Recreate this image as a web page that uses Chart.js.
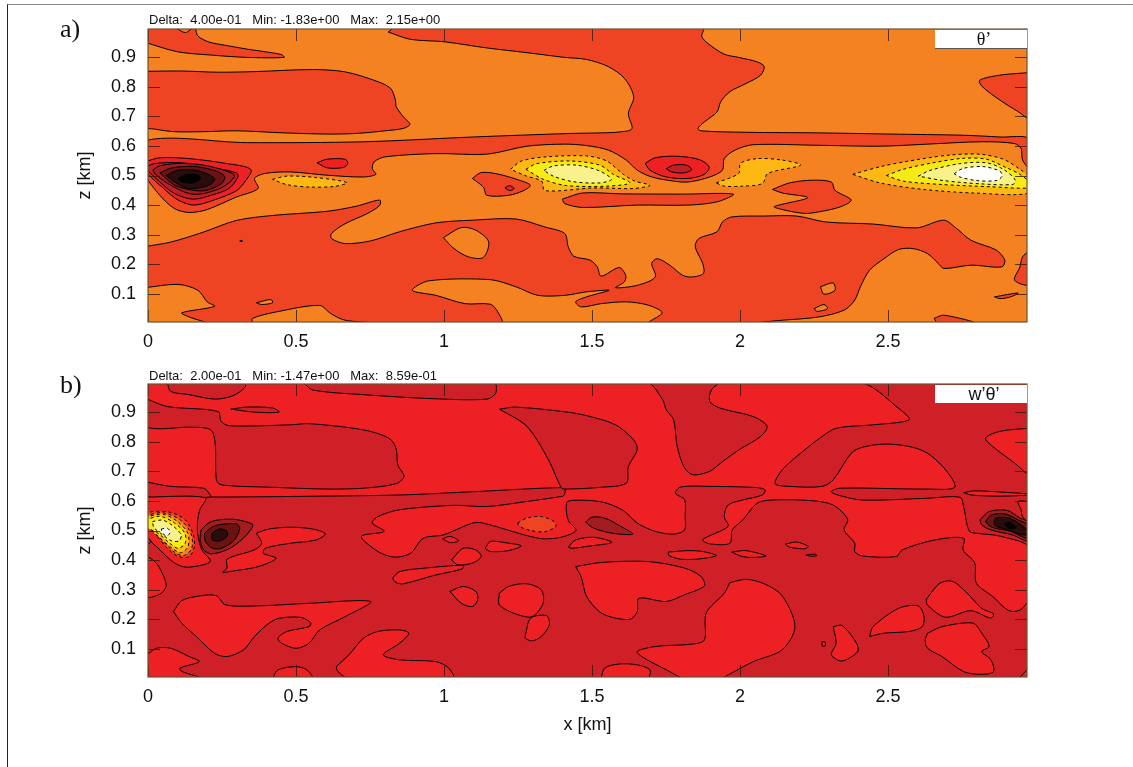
<!DOCTYPE html>
<html>
<head>
<meta charset="utf-8">
<title>Contours</title>
<script src="https://cdn.jsdelivr.net/npm/chart.js@4/dist/chart.umd.min.js"></script>
<style>
  html, body { margin: 0; padding: 0; background: #fff; overflow: hidden; }
  canvas { position: absolute; left: 0; }
  .page { position: absolute; left: 7px; top: 4px; width: 1126px; height: 763px; border-top: 1px solid #888; border-left: 1px solid #222; }
  .tag { position: absolute; left: 60px; font: 26px "Liberation Serif", serif; color: #111; }
  .stats { position: absolute; left: 149px; font: 13px "Liberation Sans", sans-serif; color: #111; white-space: pre; }
  .key { position: absolute; left: 935px; width: 86px; height: 18px; padding-left: 6px; background: #fff; border-bottom: 1px solid #555; text-align: center; color: #111; line-height: 18px; font-size: 18px; }
</style>
</head>
<body>
<div class="page"></div>
<canvas id="chartA" width="1133" height="360" style="top:0"></canvas>
<canvas id="chartB" width="1133" height="407" style="top:360px"></canvas>
<div class="tag" style="top:14px">a)</div>
<div class="tag" style="top:370px">b)</div>
<div class="stats" style="top:12px">Delta:  4.00e-01   Min: -1.83e+00   Max:  2.15e+00</div>
<div class="stats" style="top:368px">Delta:  2.00e-01   Min: -1.47e+00   Max:  8.59e-01</div>
<div class="key" style="top:30px;font-family:'Liberation Serif',serif">θ’</div>
<div class="key" style="top:385px;font-family:'Liberation Sans',sans-serif">w’θ’</div>
<script>
const xTicks = [0, 0.5, 1, 1.5, 2, 2.5];
const zTicks = [0.1, 0.2, 0.3, 0.4, 0.5, 0.6, 0.7, 0.8, 0.9];

// panel a, contours of theta' as [x km, z km]
const thetaBand = [[.811,.985],[.838,1],[1.876,1],[1.871,.97],[1.892,.946],[1.947,.91],[1.996,.899],[2.058,.884],[2.082,.868],[2.07,.839],[2.021,.811],[1.966,.783],[1.935,.749],[1.923,.715],[1.88,.681],[1.858,.659],[1.868,.651],[2.021,.646],[2.266,.644],[2.511,.64],[2.756,.636],[2.879,.63],[2.98,.623],[2.98,.524],[2.955,.552],[2.95,.591],[2.928,.608],[2.817,.614],[2.634,.606],[2.474,.599],[2.266,.602],[2.045,.604],[1.984,.586],[1.947,.557],[1.941,.518],[1.898,.495],[1.825,.478],[1.776,.481],[1.702,.495],[1.653,.518],[1.616,.552],[1.555,.586],[1.482,.601],[1.408,.606],[1.28,.599],[1.145,.572],[.973,.574],[.801,.563],[.764,.546],[.758,.523],[.77,.504],[.728,.495],[.605,.501],[.482,.512],[.396,.507],[.36,.49],[.372,.456],[.298,.427],[.2,.385],[.139,.375],[.09,.388],[.04,.433],[-.01,.507],[-.01,.617],[.335,.611],[.728,.614],[1.096,.63],[1.425,.642],[1.531,.644],[1.592,.647],[1.635,.658],[1.623,.709],[1.641,.766],[1.61,.828],[1.555,.868],[1.482,.892],[1.408,.899],[1.28,.915],[1.145,.931],[1,.952],[.887,.96]];
const thetaTopLeft = [[-.01,.95],[.1,.918],[.212,.907],[.335,.899],[.46,.899],[.452,.908],[.41,.916],[.335,.927],[.261,.94],[.206,.951],[.169,.971],[.157,1],[.126,.983],[.087,1],[-.01,1]];
const thetaUpperBlob = [[-.01,.852],[.114,.853],[.237,.849],[.359,.851],[.556,.858],[.667,.85],[.777,.817],[.82,.794],[.836,.755],[.839,.732],[.863,.698],[.885,.673],[.862,.659],[.801,.651],[.703,.642],[.605,.64],[.458,.644],[.298,.651],[.188,.648],[.09,.648],[.028,.656],[-.01,.667]];
const thetaUpperRight = [[2.98,.848],[2.878,.839],[2.81,.822],[2.817,.802],[2.878,.755],[2.94,.716],[2.98,.693]];
const thetaLower = [[-.01,.26],[.077,.275],[.188,.309],[.298,.348],[.421,.365],[.605,.379],[.703,.396],[.783,.417],[.783,.399],[.74,.371],[.666,.337],[.62,.304],[.62,.287],[.666,.27],[.752,.279],[.85,.31],[.973,.34],[1.096,.349],[1.243,.353],[1.341,.326],[1.408,.304],[1.42,.259],[1.439,.227],[1.494,.214],[1.518,.191],[1.531,.16],[1.592,.189],[1.614,.163],[1.61,.141],[1.58,.121],[1.653,.129],[1.714,.157],[1.702,.203],[1.721,.219],[1.763,.197],[1.806,.163],[1.837,.157],[1.877,.169],[1.874,.203],[1.849,.259],[1.861,.287],[1.923,.31],[1.941,.343],[1.972,.36],[2.082,.363],[2.192,.363],[2.29,.343],[2.45,.336],[2.597,.323],[2.689,.349],[2.732,.321],[2.781,.281],[2.866,.248],[2.895,.214],[2.885,.191],[2.781,.197],[2.689,.186],[2.67,.203],[2.634,.236],[2.585,.253],[2.536,.25],[2.487,.219],[2.438,.18],[2.407,.124],[2.388,.079],[2.352,.045],[2.266,.022],[2.143,.011],[2.009,0],[1.69,0],[1.737,.036],[1.69,.062],[1.616,.073],[1.531,.067],[1.464,.056],[1.445,.073],[1.482,.09],[1.558,.112],[1.482,.107],[1.408,.095],[1.317,.095],[1.243,.124],[1.157,.148],[.948,.144],[.893,.112],[.973,.095],[1.071,.067],[1.157,.065],[1.182,.039],[1.194,0],[-.01,0]];
const thetaLowLeft = [[-.01,.121],[.102,.132],[.169,.112],[.2,.073],[.225,.058],[.114,.036],[.139,.022],[.2,0],[-.01,0]];
const thetaLowBump = [[.353,0],[.353,.017],[.433,.039],[.58,.061],[.617,.034],[.666,.011],[.795,0]];
const thetaIsleA = [[.998,.29],[1.059,.324],[1.108,.315],[1.151,.276],[1.133,.223],[1.083,.225],[1.034,.253]];
const thetaIsleB = [[.366,.07],[.415,.081],[.421,.07],[.384,.064]];
const thetaIsleC = [[2.272,.124],[2.315,.137],[2.321,.112],[2.284,.099]];
const thetaIsleD = [[2.251,.05],[2.284,.064],[2.296,.05],[2.259,.041]];
const thetaEdgeA = [[2.98,.248],[2.955,.225],[2.946,.191],[2.928,.146],[2.98,.132]];
const thetaEdgeB = [[2.86,.09],[2.94,.103],[2.915,.09],[2.879,.084]];
const thetaEdgeC = [[2.656,.017],[2.689,.028],[2.8,0],[2.67,0]];
const thetaLens = [[1.4,.42],[1.469,.441],[1.6,.438],[1.8,.437],[1.978,.437],[1.923,.411],[1.825,.4],[1.653,.4],[1.469,.392],[1.408,.405]];
const thetaPatchA = [[1.096,.49],[1.126,.51],[1.182,.505],[1.255,.484],[1.292,.467],[1.267,.448],[1.218,.433],[1.145,.433],[1.133,.461]];
const thetaPatchB = [[2.11,.453],[2.168,.475],[2.241,.484],[2.309,.478],[2.321,.45],[2.376,.417],[2.339,.394],[2.266,.377],[2.217,.372],[2.143,.385],[2.116,.395],[2.229,.425],[2.143,.441]];
const thetaSpot = [[1.206,.458],[1.222,.466],[1.237,.456],[1.222,.449]];
const thetaSmallRed = [[.571,.543],[.605,.555],[.666,.555],[.675,.541],[.66,.527],[.605,.526]];
const thetaDot = [[.31,.279],[.318,.281],[.318,.277]];
const thetaCoolA = [[0-.01,.546],[.04,.56],[.139,.557],[.262,.541],[.348,.52],[.323,.473],[.298,.448],[.237,.422],[.157,.4],[.102,.417],[.053,.456],[-.01,.517]];
const thetaCoolB = [[-.01,.525],[.02,.54],[.114,.543],[.237,.523],[.298,.509],[.304,.495],[.273,.456],[.212,.433],[.151,.42],[.09,.439],[.04,.478]];
const thetaCoolC = [[.016,.518],[.04,.533],[.114,.541],[.2,.533],[.286,.507],[.292,.495],[.255,.462],[.188,.439],[.139,.439],[.077,.467],[.028,.501]];
const thetaCoolD = [[.04,.509],[.077,.525],[.151,.531],[.225,.517],[.259,.497],[.249,.473],[.2,.45],[.151,.45],[.09,.467]];
const thetaCoolE = [[.061,.501],[.102,.518],[.169,.516],[.225,.49],[.206,.467],[.139,.456],[.09,.478]];
const thetaCoolF = [[.102,.49],[.133,.504],[.169,.501],[.178,.49],[.151,.475],[.114,.478]];
const thetaMidRed = [[1.68,.541],[1.714,.56],[1.788,.565],[1.862,.554],[1.896,.529],[1.88,.504],[1.825,.49],[1.751,.495],[1.696,.518]];
const thetaMidDark = [[1.751,.523],[1.776,.535],[1.819,.535],[1.837,.52],[1.812,.509],[1.77,.512]];
const thetaWarmLeft = [[.421,.487],[.47,.498],[.568,.493],[.672,.476],[.63,.463],[.544,.461],[.47,.469]];
const thetaWarmMidA = [[1.225,.521],[1.262,.549],[1.347,.563],[1.482,.566],[1.55,.549],[1.606,.504],[1.645,.481],[1.696,.467],[1.64,.456],[1.505,.458],[1.341,.449],[1.33,.481],[1.279,.498]];
const thetaWarmMidB = [[1.277,.521],[1.313,.54],[1.426,.549],[1.527,.535],[1.572,.504],[1.628,.475],[1.55,.464],[1.414,.466],[1.336,.487]];
const thetaWarmMidC = [[1.338,.517],[1.369,.532],[1.448,.535],[1.527,.515],[1.566,.487],[1.527,.475],[1.437,.479],[1.369,.498]];
const thetaWarmNext = [[1.92,.475],[1.996,.507],[2.002,.541],[2.058,.557],[2.143,.552],[2.205,.535],[2.094,.507],[2.076,.473],[2.009,.464],[1.947,.464]];
const thetaWarmRightA = [[2.381,.504],[2.484,.532],[2.608,.555],[2.709,.569],[2.811,.572],[2.89,.555],[2.946,.521],[2.98,.492],[2.98,.441],[2.789,.441],[2.62,.453],[2.473,.475]];
const thetaWarmRightB = [[2.495,.5],[2.552,.521],[2.653,.543],[2.754,.558],[2.833,.555],[2.901,.526],[2.946,.504],[2.98,.475],[2.98,.458],[2.845,.462],[2.676,.47],[2.552,.481]];
const thetaWarmRightC = [[2.603,.498],[2.642,.517],[2.743,.54],[2.833,.543],[2.89,.521],[2.929,.487],[2.923,.47],[2.811,.472],[2.687,.483]];
const thetaWarmRightD = [[2.724,.506],[2.754,.524],[2.822,.53],[2.878,.515],[2.886,.498],[2.866,.483],[2.799,.483],[2.743,.495]];

// panel b, contours of w'theta' as [x km, z km]
const fluxMain = [[-.01,1],[-.01,.615],[.212,.613],[.482,.615],[.85,.62],[1.096,.631],[1.396,.645],[1.409,.638],[1.405,.618],[1.384,.613],[1.28,.598],[1.145,.581],[1.034,.585],[.85,.57],[.777,.547],[.758,.525],[.798,.497],[.721,.48],[.777,.429],[.832,.41],[.887,.423],[.93,.474],[.998,.485],[1.096,.525],[1.133,.525],[1.317,.474],[1.39,.476],[1.446,.5],[1.42,.534],[1.414,.593],[1.437,.602],[1.531,.597],[1.604,.569],[1.653,.525],[1.714,.497],[1.776,.488],[1.813,.502],[1.815,.547],[1.813,.604],[1.782,.626],[1.8,.647],[1.898,.649],[2.058,.645],[2.085,.637],[2.076,.62],[2.009,.603],[1.96,.586],[1.947,.547],[1.96,.514],[1.874,.469],[1.898,.455],[1.966,.457],[1.974,.502],[2.009,.535],[2.058,.592],[2.107,.603],[2.241,.601],[2.315,.586],[2.364,.538],[2.352,.502],[2.388,.457],[2.388,.429],[2.413,.414],[2.529,.412],[2.547,.434],[2.658,.468],[2.756,.474],[2.754,.434],[2.793,.391],[2.799,.322],[2.854,.277],[2.909,.229],[2.946,.231],[2.97,.256],[2.98,.27],[2.98,.44],[2.879,.481],[2.805,.49],[2.775,.498],[2.756,.579],[2.744,.612],[2.634,.609],[2.413,.603],[2.327,.621],[2.309,.632],[2.339,.643],[2.634,.64],[2.726,.646],[2.695,.705],[2.634,.761],[2.572,.784],[2.487,.792],[2.413,.781],[2.376,.761],[2.315,.671],[2.278,.649],[2.168,.649],[2.119,.658],[2.143,.705],[2.205,.761],[2.278,.818],[2.327,.846],[2.45,.857],[2.572,.874],[2.542,.908],[2.407,1],[1.941,1],[1.904,.975],[1.898,.936],[1.935,.913],[2.045,.885],[2.092,.852],[2.07,.818],[1.996,.772],[1.935,.728],[1.898,.7],[1.843,.688],[1.813,.711],[1.788,.784],[1.776,.874],[1.751,.908],[1.739,.942],[1.684,1]];
const fluxTopA = [[.065,1],[.077,.97],[.139,.959],[.225,.944],[.286,.955],[.329,.985],[.323,1]];
const fluxTopB = [[.525,1],[.556,.975],[.728,.959],[.973,.945],[1.145,.944],[1.175,.964],[1.169,1]];
const fluxSliverTop = [[.28,.91],[.335,.917],[.421,.914],[.443,.9],[.36,.9]];
const fluxUpperLeft = [[-.01,.947],[.065,.919],[.237,.902],[.247,.869],[.274,.854],[.482,.857],[.544,.861],[.728,.84],[.814,.812],[.838,.778],[.844,.722],[.865,.683],[.838,.658],[.728,.643],[.605,.64],[.421,.646],[.249,.654],[.231,.671],[.227,.795],[.212,.84],[.151,.849],[-.01,.852]];
const fluxUpperMid = [[1.188,.91],[1.243,.917],[1.425,.899],[1.494,.885],[1.58,.857],[1.641,.806],[1.653,.773],[1.623,.716],[1.616,.66],[1.531,.646],[1.408,.64],[1.396,.645],[1.353,.739],[1.28,.852]];
const fluxWedge = [[-.01,.665],[.077,.649],[.188,.643],[.206,.626],[.212,.613],[-.01,.615]];
const fluxAroundWarm = [[-.01,.613],[.194,.611],[.175,.57],[.167,.525],[.169,.48],[.182,.435],[.21,.395],[.133,.376],[.09,.39],[.04,.435],[-.01,.491]];
const fluxLeftNick = [[-.01,.485],[.01,.463],[-.01,.452]];
const fluxLeftEdge = [[-.01,.418],[.028,.39],[.053,.345],[.061,.311],[.04,.285],[-.01,.277]];
const fluxWarmA = [[-.01,.553],[.016,.564],[.077,.561],[.126,.536],[.151,.491],[.157,.446],[.139,.412],[.102,.412],[.065,.44],[.028,.485],[-.01,.525]];
const fluxWarmB = [[-.01,.55],[.05,.56],[.11,.535],[.145,.49],[.148,.44],[.12,.415],[.085,.43],[.045,.47],[-.01,.523]];
const fluxWarmC = [[-.01,.545],[.05,.555],[.1,.53],[.135,.49],[.135,.445],[.11,.425],[.075,.445],[.035,.48],[-.01,.52]];
const fluxWarmD = [[-.01,.535],[.04,.548],[.09,.525],[.125,.49],[.125,.455],[.1,.44],[.07,.46],[.035,.49],[-.01,.515]];
const fluxWarmE = [[.015,.53],[.05,.535],[.085,.515],[.112,.485],[.105,.465],[.08,.465],[.05,.485],[.02,.51]];
const fluxWarmF = [[.045,.505],[.065,.508],[.075,.495],[.065,.482],[.05,.49]];
const fluxCoolA = [[.179,.502],[.213,.53],[.286,.538],[.353,.521],[.347,.502],[.31,.463],[.267,.435],[.213,.421],[.188,.435],[.176,.468]];
const fluxCoolB = [[.191,.491],[.225,.516],[.298,.523],[.31,.508],[.292,.468],[.249,.44],[.218,.44],[.194,.463]];
const fluxCoolC = [[.216,.491],[.243,.506],[.267,.497],[.267,.48],[.243,.465],[.218,.468]];
const fluxBlobA = [[.366,.491],[.409,.505],[.482,.511],[.556,.505],[.599,.489],[.568,.468],[.482,.457],[.396,.44],[.39,.423],[.433,.406],[.372,.378],[.274,.361],[.252,.359],[.267,.373],[.267,.403],[.36,.435],[.384,.457]];
const fluxBlobB = [[.086,.226],[.114,.263],[.175,.279],[.231,.28],[.261,.249],[.36,.245],[.544,.254],[.752,.26],[.666,.209],[.58,.164],[.544,.119],[.5,.102],[.452,.119],[.439,.136],[.47,.159],[.544,.175],[.55,.187],[.519,.206],[.445,.204],[.409,.187],[.36,.142],[.323,.097],[.267,.074],[.225,.085],[.163,.142],[.114,.187]];
const fluxBlobC = [[-.01,.074],[.028,.102],[.077,.102],[.139,.074],[.173,.057],[.108,.035],[.114,.024],[.182,0],[-.01,0]];
const fluxBlobD = [[.421,0],[.439,.029],[.5,.04],[.537,.029],[.555,0]];
const fluxBlobE = [[.636,.04],[.679,.08],[.728,.136],[.777,.159],[.85,.164],[.881,.153],[.85,.119],[.795,.08],[.85,.063],[.973,.057],[1.016,.035],[1.031,0],[.679,0],[.642,.023]];
const fluxSpotA = [[.995,.472],[1.022,.48],[1.049,.465],[1.022,.459]];
const fluxSpotB = [[1.139,.44],[1.157,.463],[1.206,.459],[1.261,.448],[1.218,.432],[1.157,.429]];
const fluxSpotC = [[1.42,.444],[1.445,.468],[1.506,.477],[1.567,.46],[1.482,.446],[1.432,.44]];
const fluxSpotD = [[1.026,.401],[1.065,.44],[1.108,.434],[1.126,.412],[1.096,.39],[1.047,.384]];
const fluxSpotE = [[.826,.339],[.85,.361],[.936,.373],[1.065,.382],[1.061,.37],[.973,.35],[.863,.32],[.838,.324]];
const fluxSpotF = [[1.02,.294],[1.065,.311],[1.108,.294],[1.114,.266],[1.096,.243],[1.059,.254]];
const fluxSpotG = [[1.187,.288],[1.218,.311],[1.28,.32],[1.329,.299],[1.335,.254],[1.298,.209],[1.243,.218],[1.187,.249]];
const fluxSpotH = [[1.275,.147],[1.293,.204],[1.347,.212],[1.356,.181],[1.329,.142],[1.298,.127],[1.275,.136]];
const fluxLargeA = [[1.445,.378],[1.531,.392],[1.69,.395],[1.813,.373],[1.868,.345],[1.88,.313],[1.813,.283],[1.751,.26],[1.659,.271],[1.653,.226],[1.629,.2],[1.567,.207],[1.525,.226],[1.482,.277],[1.463,.345]];
const fluxLargeB = [[1.966,.324],[2.021,.335],[2.082,.32],[2.143,.279],[2.186,.175],[2.143,.097],[2.045,.057],[1.96,.012],[1.935,0],[1.813,0],[1.763,.023],[1.653,.088],[1.714,.108],[1.837,.116],[1.88,.13],[1.886,.221],[1.947,.288]];
const fluxBottomMid = [[1.531,0],[1.543,.035],[1.592,.049],[1.653,.046],[1.696,.029],[1.687,0]];
const fluxThinA = [[1.757,.427],[1.824,.432],[1.874,.429],[1.92,.415],[1.862,.404],[1.801,.403],[1.761,.415]];
const fluxThinB = [[1.972,.427],[2.021,.432],[2.088,.414],[2.045,.409],[2.008,.412]];
const fluxThinC = [[2.153,.454],[2.192,.461],[2.231,.446],[2.217,.438],[2.168,.444]];
const fluxThinD = [[2.223,.417],[2.254,.42],[2.26,.415],[2.241,.413]];
const fluxDarkOval = [[1.479,.528],[1.5,.545],[1.543,.542],[1.592,.517],[1.638,.488],[1.567,.491],[1.506,.508]];
const fluxOrangeOval = [[1.249,.525],[1.28,.542],[1.329,.547],[1.372,.53],[1.378,.514],[1.341,.496],[1.292,.5],[1.255,.514]];
const fluxRing = [[2.278,.125],[2.288,.122],[2.288,.11],[2.278,.11]];
const fluxRightA = [[2.315,.175],[2.345,.179],[2.394,.119],[2.398,.091],[2.345,.059],[2.309,.08],[2.325,.119]];
const fluxRightB = [[2.438,.142],[2.45,.175],[2.536,.237],[2.603,.245],[2.622,.209],[2.616,.175],[2.572,.159],[2.487,.153]];
const fluxRightC = [[2.63,.268],[2.676,.322],[2.719,.328],[2.768,.288],[2.817,.237],[2.857,.218],[2.847,.204],[2.78,.229],[2.694,.207],[2.633,.249]];
const fluxRightD = [[2.634,.153],[2.683,.175],[2.787,.187],[2.817,.153],[2.842,.108],[2.817,.091],[2.848,.063],[2.857,.023],[2.817,.014],[2.756,.023],[2.683,.074],[2.634,.102],[2.626,.13]];
const fluxCorner = [[2.943,0],[2.97,.029],[2.98,.04],[2.98,0]];
const fluxTopRight = [[2.98,.846],[2.878,.835],[2.83,.812],[2.854,.784],[2.928,.728],[2.98,.691]];
const fluxSliverRight = [[2.756,.628],[2.793,.634],[2.879,.63],[2.98,.623],[2.98,.62],[2.879,.616],[2.781,.62]];
const fluxEdgeRight = [[2.98,.598],[2.94,.598],[2.95,.57],[2.955,.547],[2.98,.525]];
const fluxCoolRightA = [[2.811,.536],[2.842,.564],[2.903,.568],[2.946,.542],[2.98,.525],[2.98,.463],[2.921,.485],[2.848,.502],[2.817,.519]];
const fluxCoolRightB = [[2.83,.53],[2.848,.552],[2.897,.556],[2.94,.536],[2.98,.514],[2.98,.471],[2.915,.497],[2.86,.508],[2.842,.517]];
const fluxCoolRightC = [[2.858,.525],[2.866,.542],[2.909,.542],[2.952,.517],[2.98,.491],[2.958,.485],[2.909,.502],[2.866,.514]];
const fluxCoolRightD = [[2.893,.523],[2.909,.527],[2.934,.51],[2.909,.508]];

const colors = { black: '#000', ink: '#2b0c0c', maroon: '#6b1213', brick: '#a31c20', crimson: '#be2026', dark: '#cf2027', red: '#ed2024', tomato: '#ef4423', orange: '#f58220', amber: '#fdb813', yellow: '#f6eb14', pale: '#f9f28a', white: '#fff' };
const dash = [3, 3];

function shape(points, color, borderDash) {
  const closed = points.concat([points[0]]);
  return {
    data: closed.map(p => ({x: p[0], y: p[1]})),
    showLine: true,
    fill: 'shape',
    backgroundColor: color,
    borderColor: '#000',
    borderWidth: 1,
    borderDash: borderDash || [],
    pointRadius: 0,
    tension: 0.3
  };
}

const thetaLayers = [
  shape(thetaBand, colors.tomato), shape(thetaTopLeft, colors.tomato), shape(thetaUpperBlob, colors.tomato),
  shape(thetaUpperRight, colors.tomato), shape(thetaLower, colors.tomato),
  shape(thetaLowLeft, colors.orange), shape(thetaLowBump, colors.orange), shape(thetaIsleA, colors.orange),
  shape(thetaIsleB, colors.orange), shape(thetaIsleC, colors.orange), shape(thetaIsleD, colors.orange),
  shape(thetaEdgeA, colors.tomato), shape(thetaEdgeB, colors.tomato), shape(thetaEdgeC, colors.tomato),
  shape(thetaLens, colors.tomato), shape(thetaPatchA, colors.tomato), shape(thetaPatchB, colors.tomato),
  shape(thetaSpot, colors.red), shape(thetaSmallRed, colors.red), shape(thetaDot, colors.black),
  shape(thetaCoolA, colors.red), shape(thetaCoolB, colors.crimson), shape(thetaCoolC, colors.brick),
  shape(thetaCoolD, colors.maroon), shape(thetaCoolE, colors.ink), shape(thetaCoolF, colors.black),
  shape(thetaMidRed, colors.red), shape(thetaMidDark, colors.crimson),
  shape(thetaWarmLeft, colors.amber, dash), shape(thetaWarmNext, colors.amber, dash),
  shape(thetaWarmMidA, colors.amber, dash), shape(thetaWarmMidB, colors.yellow, dash), shape(thetaWarmMidC, colors.pale, dash),
  shape(thetaWarmRightA, colors.amber, dash), shape(thetaWarmRightB, colors.yellow, dash),
  shape(thetaWarmRightC, colors.pale, dash), shape(thetaWarmRightD, colors.white, dash)
];

const fluxLayers = [
  shape(fluxMain, colors.red),
  shape(fluxTopA, colors.dark), shape(fluxTopB, colors.dark), shape(fluxSliverTop, colors.dark),
  shape(fluxUpperLeft, colors.dark), shape(fluxUpperMid, colors.dark), shape(fluxWedge, colors.dark),
  shape(fluxAroundWarm, colors.red), shape(fluxLeftNick, colors.dark), shape(fluxLeftEdge, colors.red),
  shape(fluxWarmA, colors.tomato, dash), shape(fluxWarmB, colors.orange, dash), shape(fluxWarmC, colors.amber, dash),
  shape(fluxWarmD, colors.yellow, dash), shape(fluxWarmE, colors.pale, dash), shape(fluxWarmF, colors.white, dash),
  shape(fluxCoolA, colors.brick), shape(fluxCoolB, colors.maroon), shape(fluxCoolC, colors.ink),
  shape(fluxBlobA, colors.red), shape(fluxBlobB, colors.red), shape(fluxBlobC, colors.red), shape(fluxBlobD, colors.red), shape(fluxBlobE, colors.red),
  shape(fluxSpotA, colors.red), shape(fluxSpotB, colors.red), shape(fluxSpotC, colors.red), shape(fluxSpotD, colors.red),
  shape(fluxSpotE, colors.red), shape(fluxSpotF, colors.red), shape(fluxSpotG, colors.red), shape(fluxSpotH, colors.red),
  shape(fluxLargeA, colors.red), shape(fluxLargeB, colors.red), shape(fluxBottomMid, colors.red),
  shape(fluxThinA, colors.red), shape(fluxThinB, colors.red), shape(fluxThinC, colors.red), shape(fluxThinD, colors.red),
  shape(fluxDarkOval, colors.brick), shape(fluxOrangeOval, colors.tomato, dash), shape(fluxRing, colors.red),
  shape(fluxRightA, colors.red), shape(fluxRightB, colors.red), shape(fluxRightC, colors.red), shape(fluxRightD, colors.red),
  shape(fluxCorner, colors.red), shape(fluxTopRight, colors.red), shape(fluxSliverRight, colors.red), shape(fluxEdgeRight, colors.red),
  shape(fluxCoolRightA, colors.brick), shape(fluxCoolRightB, colors.maroon), shape(fluxCoolRightC, colors.ink), shape(fluxCoolRightD, colors.black)
];

// gnuplot look: plain background, inward ticks on all four sides, thin frame
const frame = {
  id: 'frame',
  beforeDatasetsDraw(chart, args, opts) {
    const a = chart.chartArea;
    chart.ctx.fillStyle = opts.background;
    chart.ctx.fillRect(a.left, a.top, a.width, a.height);
  },
  afterDatasetsDraw(chart) {
    const ctx = chart.ctx, a = chart.chartArea;
    ctx.save();
    ctx.strokeStyle = 'rgba(50,25,10,0.8)';
    ctx.lineWidth = 1;
    ctx.beginPath();
    chart.scales.x.ticks.forEach(t => {
      const px = Math.round(chart.scales.x.getPixelForValue(t.value)) + 0.5;
      ctx.moveTo(px, a.top); ctx.lineTo(px, a.top + 12);
      ctx.moveTo(px, a.bottom); ctx.lineTo(px, a.bottom - 12);
    });
    chart.scales.y.ticks.forEach(t => {
      const py = Math.round(chart.scales.y.getPixelForValue(t.value)) + 0.5;
      ctx.moveTo(a.left, py); ctx.lineTo(a.left + 12, py);
      ctx.moveTo(a.right, py); ctx.lineTo(a.right - 12, py);
    });
    ctx.stroke();
    ctx.strokeStyle = '#6b5233';
    ctx.lineWidth = 1.2;
    ctx.strokeRect(a.left, a.top, a.width, a.height);
    ctx.restore();
  }
};

function drawPanel(id, layers, background, top, axisH, bottomPad, xTitle) {
  const tickFont = {family: '"Liberation Sans", sans-serif', size: 18};
  return new Chart(document.getElementById(id), {
    type: 'scatter',
    // first dataset is painted last, so hand them over back to front
    data: {datasets: layers.slice().reverse()},
    plugins: [frame],
    options: {
      responsive: false,
      animation: false,
      events: [],
      layout: {padding: {left: 74, top: top, right: 106, bottom: bottomPad}},
      plugins: {legend: {display: false}, tooltip: {enabled: false}, frame: {background}},
      scales: {
        x: {
          type: 'linear', min: 0, max: 2.97,
          afterBuildTicks: s => { s.ticks = xTicks.map(v => ({value: v})); },
          afterFit: s => { s.height = axisH; },
          grid: {display: false}, border: {display: false},
          ticks: {font: tickFont, color: '#111', padding: 1, maxRotation: 0, autoSkip: false, callback: v => String(v)},
          title: {display: xTitle, text: 'x [km]', font: tickFont, color: '#111', padding: 0}
        },
        y: {
          type: 'linear', min: 0.005, max: 0.995,
          afterBuildTicks: s => { s.ticks = zTicks.map(v => ({value: v})); },
          afterFit: s => { s.width = 74; },
          grid: {display: false}, border: {display: false},
          ticks: {font: tickFont, color: '#111', padding: 4, autoSkip: false, callback: v => String(v)},
          title: {display: true, text: 'z [km]', font: tickFont, color: '#111', padding: 0}
        }
      }
    }
  });
}

drawPanel('chartA', thetaLayers, colors.orange, 29, 38, 0, false);
drawPanel('chartB', fluxLayers, colors.dark, 24, 59, 31, true);
</script>
</body>
</html>
